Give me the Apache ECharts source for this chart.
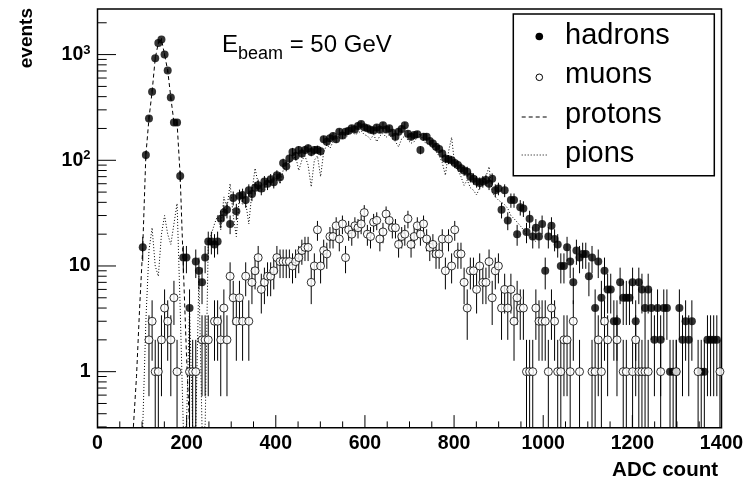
<!DOCTYPE html>
<html><head><meta charset="utf-8">
<script src="https://cdn.jsdelivr.net/npm/echarts@6/dist/echarts.min.js"></script>
<style>html,body{margin:0;padding:0;background:#fff}#main{width:748px;height:494px}</style>
</head><body><div id="main"></div>
<script>
// ---- histogram binning: 200 bins of 7 ADC counts from 0 to 1400 ----
const binStart = 0;
const binWidth = 7;
const nBins = 200;

// ---- measured series (events per bin, null = empty bin) ----
const hadrons = [
  null,null,null,null,null,null,null,null,null,null,
  null,null,null,null,15,112,249,445,922,1290,
  1390,1000,706,393,228,228,71,12,12,4,
  null,11,9,7,12,17,17,16,17,28,
  32,34,25,44,33,46,47,42,52,48,
  55,58,54,63,60,66,62,72,69,94,
  88,104,120,110,125,116,125,130,120,125,
  126,122,158,150,162,170,158,186,172,186,
  190,201,196,211,220,205,201,194,191,204,
  195,215,196,201,182,167,186,198,215,178,
  167,173,176,125,167,167,152,144,134,128,
  116,104,102,100,94,90,84,80,78,70,
  67,63,61,63,65,60,67,52,54,34,
  52,27,42,42,20,36,35,21,28,19,
  23,19,25,9,19,24,18,16,10,10,
  15,11,7,14,12,13,13,8,12,4,
  11,5,9,6,6,3,3,7,5,5,
  5,7,3,7,6,4,6,4,2,4,
  2,4,4,1,1,1,4,2,3,2,
  3,null,null,1,1,2,2,2,2,null
];
const muons = [
  null,null,null,null,null,null,null,null,null,null,
  null,null,null,null,null,null,2,3,1,1,
  2,4,3,2,5,1,null,null,null,1,
  1,1,null,2,2,2,null,3,3,2,
  4,2,8,5,3,5,3,8,3,7,
  9,12,6,7,8,8,9,12,11,11,
  11,11,10,11,12,14,15,15,7,10,
  22,10,14,13,19,19,24,18,25,12,
  22,20,24,23,25,32,20,19,26,27,
  18,21,31,27,23,23,16,19,20,28,
  16,19,24,20,25,18,15,16,13,13,
  18,9,18,10,22,13,13,7,4,9,
  9,6,10,7,7,11,5,9,10,4,
  6,4,6,3,5,4,4,1,1,1,
  4,3,3,3,1,4,3,1,1,2,
  2,1,3,null,1,null,null,null,1,1,
  2,1,3,2,null,null,2,null,1,1,
  null,1,2,1,1,1,1,null,null,null,
  1,null,null,null,null,1,null,null,null,null,
  null,null,1,null,null,null,null,null,null,1
];
const protons = [
  null,null,null,null,null,null,null,null,null,null,
  null,0.3,0.9,4,15,112,249,445,922,1290,
  1390,1000,706,393,228,228,71,10,1.5,0.3
];
const pions = [
  null,null,null,null,null,null,null,null,null,null,
  null,null,null,null,0.3,3,14,23,10,8,
  20,30,20,16,25,39,4,0.3,0.3,4,
  0.3,0.3,8,0.3,0.3,17,20,25,30,22,
  45,35,60,30,19,47,38,40,25,50,
  84,60,55,50,65,60,75,70,60,80,
  90,95,100,110,80,100,110,90,56,100,
  110,70,120,140,130,150,160,165,170,160,
  180,190,175,180,190,175,170,158,175,150,
  170,180,165,175,160,150,134,160,170,155,
  145,150,165,180,150,145,140,130,120,110,
  95,72,120,165,90,80,70,58,65,55,
  52,47,55,60,70,87,50,45,42,40,
  38,35,30,28,26,24,22,20,19,18,17
];

// ---- axes ----
const xMin = 0, xMax = 1400;
const xTickLabels = [0, 200, 400, 600, 800, 1000, 1200, 1400];
const xMinorStep = 50;
const yMin = 0.295, yMax = 2700;
const yDecades = [1, 10, 100, 1000];

const FONT = 'Liberation Sans, Arial, Helvetica, sans-serif';
const binCenter = i => binStart + binWidth * (i + 0.5);

function points(arr) {
  const out = [];
  arr.forEach((v, i) => { if (v != null && v > 0) out.push([binCenter(i), v]); });
  return out;
}
function linePoints(arr) {
  return arr.map((v, i) => [binCenter(i), v == null ? null : v]);
}
function errBars(arr) {
  const out = [];
  arr.forEach((v, i) => {
    if (v != null && v > 0) {
      const e = Math.sqrt(v);
      out.push([binCenter(i), Math.max(v - e, yMin), Math.min(v + e, yMax)]);
    }
  });
  return out;
}
function renderErr(params, api) {
  const x = api.value(0);
  const p1 = api.coord([x, api.value(1)]);
  const p2 = api.coord([x, api.value(2)]);
  return { type: 'line', shape: { x1: p1[0], y1: p1[1], x2: p2[0], y2: p2[1] },
           style: { stroke: '#000', lineWidth: 1 } };
}
function renderTicks(params, api) {
  const ch = [];
  const st = { stroke: '#000', lineWidth: 1 };
  const seg = (a, dx, dy) => ch.push({ type: 'line', shape: { x1: a[0], y1: a[1], x2: a[0] + dx, y2: a[1] + dy }, style: st });
  for (let v = xMin; v <= xMax; v += xMinorStep) {
    const p = api.coord([v, yMin]);
    const major = xTickLabels.indexOf(v) >= 0;
    seg(p, 0, major ? -12.6 : -6.3);
  }
  for (let d = 0.1; d <= 1000; d *= 10) {
    for (let k = 1; k <= 9; k++) {
      const v = d * k;
      if (v < yMin || v > yMax) continue;
      const p = api.coord([xMin, v]);
      seg(p, k === 1 ? 18.5 : 9.2, 0);
    }
  }
  return { type: 'group', children: ch };
}

const chart = echarts.init(document.getElementById('main'), null, { renderer: 'canvas' });
const legendX = 513.3, legendY = 14;
chart.setOption({
  animation: false,
  backgroundColor: '#fff',
  textStyle: { fontFamily: FONT },
  grid: { left: 97.5, right: 26.5, top: 9, bottom: 66.3, show: true, borderColor: '#000', borderWidth: 1.5,
          containLabel: false, outerBoundsMode: 'none' },
  xAxis: {
    type: 'value', min: xMin, max: xMax, interval: 200,
    axisLine: { show: false }, axisTick: { show: false }, splitLine: { show: false },
    axisLabel: { fontSize: 19.5, fontWeight: 'bold', color: '#000', fontFamily: FONT, margin: 6,
                 formatter: v => String(v) }
  },
  yAxis: {
    type: 'log', logBase: 10, min: yMin, max: yMax,
    axisLine: { show: false }, axisTick: { show: false }, splitLine: { show: false },
    axisLabel: {
      fontSize: 19.5, fontWeight: 'bold', color: '#000', fontFamily: FONT, margin: 7,
      showMinLabel: false, showMaxLabel: false,
      formatter: v => {
        const l = Math.log10(v), e = Math.round(l);
        if (Math.abs(l - e) > 1e-6 || yDecades.indexOf(Math.pow(10, e)) < 0) return '';
        return e === 0 ? '1' : e === 1 ? '10' : '10{sup|' + e + '}';
      },
      rich: { sup: { fontSize: 13, fontWeight: 'bold', color: '#000', fontFamily: FONT, padding: [0, 0, 9, 0] } }
    }
  },
  series: [
    { type: 'line', name: 'protons', data: linePoints(protons), symbol: 'none', connectNulls: false,
      lineStyle: { color: '#000', width: 1, type: [4, 3] }, z: 2 },
    { type: 'line', name: 'pions', data: linePoints(pions), symbol: 'none', connectNulls: false,
      lineStyle: { color: '#000', width: 1, type: [1, 2] }, z: 2 },
    { type: 'custom', name: 'hadronErr', data: errBars(hadrons), renderItem: renderErr, encode: { x: 0, y: [1, 2] }, z: 3, silent: true },
    { type: 'custom', name: 'muonErr', data: errBars(muons), renderItem: renderErr, encode: { x: 0, y: [1, 2] }, z: 3, silent: true },
    { type: 'scatter', name: 'hadrons', data: points(hadrons), symbol: 'circle', symbolSize: 8,
      itemStyle: { color: '#000' }, z: 4 },
    { type: 'scatter', name: 'muons', data: points(muons), symbol: 'circle', symbolSize: 8,
      itemStyle: { color: '#fff', borderColor: '#000', borderWidth: 1 }, z: 5 },
    { type: 'custom', name: 'ticks', data: [[0, 1]], renderItem: renderTicks, encode: { x: 0, y: 1 }, clip: false, z: 6, silent: true }
  ],
  graphic: [
    { type: 'text', x: 718, y: 470, style: { text: 'ADC count', font: 'bold 20.5px ' + FONT, fill: '#000', align: 'right', verticalAlign: 'middle' } },
    { type: 'text', x: 27, y: 8, rotation: Math.PI / 2, style: { text: 'events', font: 'bold 19px ' + FONT, fill: '#000', align: 'right', verticalAlign: 'middle' } },
    { type: 'text', x: 222, y: 45, style: { text: 'E', font: '24px ' + FONT, fill: '#000', verticalAlign: 'middle' } },
    { type: 'text', x: 238, y: 54.5, style: { text: 'beam', font: '18px ' + FONT, fill: '#000', verticalAlign: 'middle' } },
    { type: 'text', x: 283, y: 45, style: { text: ' = 50 GeV', font: '24px ' + FONT, fill: '#000', verticalAlign: 'middle' } },
    { type: 'group', x: legendX, y: legendY, z: 100, children: [
      { type: 'rect', shape: { x: 0, y: 0, width: 201, height: 161.7 }, style: { fill: '#fff', stroke: '#000', lineWidth: 1.5 } },
      { type: 'circle', shape: { cx: 26, cy: 22.5, r: 3.8 }, style: { fill: '#000' } },
      { type: 'circle', shape: { cx: 26, cy: 63.3, r: 3.3 }, style: { fill: '#fff', stroke: '#000', lineWidth: 1 } },
      { type: 'line', shape: { x1: 8.4, y1: 103, x2: 33.4, y2: 103 }, style: { stroke: '#000', lineWidth: 1, lineDash: [4, 3] } },
      { type: 'line', shape: { x1: 8.4, y1: 141, x2: 33.4, y2: 141 }, style: { stroke: '#000', lineWidth: 1, lineDash: [1, 2] } },
      { type: 'text', x: 51.7, y: 22, style: { text: 'hadrons', font: '29px ' + FONT, fill: '#000', verticalAlign: 'middle' } },
      { type: 'text', x: 51.7, y: 61.3, style: { text: 'muons', font: '29px ' + FONT, fill: '#000', verticalAlign: 'middle' } },
      { type: 'text', x: 51.7, y: 100.7, style: { text: 'protons', font: '29px ' + FONT, fill: '#000', verticalAlign: 'middle' } },
      { type: 'text', x: 51.7, y: 140, style: { text: 'pions', font: '29px ' + FONT, fill: '#000', verticalAlign: 'middle' } }
    ] }
  ]
});
</script></body></html>
